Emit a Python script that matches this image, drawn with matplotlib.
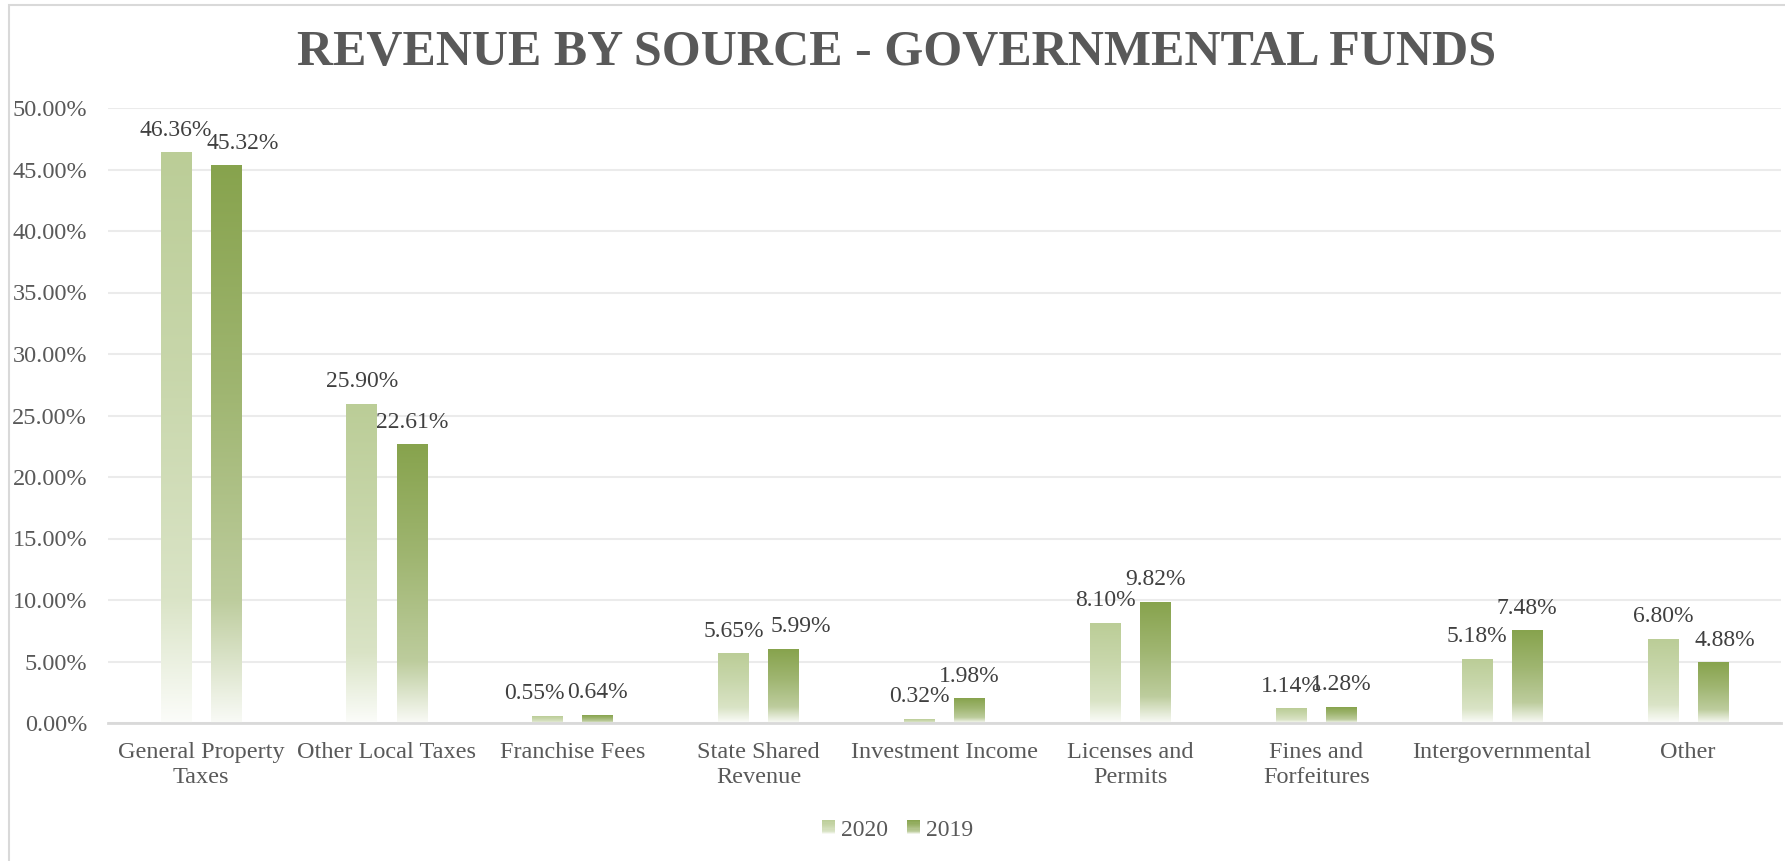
import numpy as np
import matplotlib.pyplot as plt
from matplotlib.colors import LinearSegmentedColormap, to_rgb
from matplotlib.legend_handler import HandlerBase
from matplotlib.patches import Rectangle

# 数据
categories = [
    "General Property\nTaxes", "Other Local Taxes", "Franchise Fees",
    "State Shared\nRevenue", "Investment Income", "Licenses and\nPermits",
    "Fines and\nForfeitures", "Intergovernmental", "Other",
]
share_2020 = [46.36, 25.90, 0.55, 5.65, 0.32, 8.10, 1.14, 5.18, 6.80]
share_2019 = [45.32, 22.61, 0.64, 5.99, 1.98, 9.82, 1.28, 7.48, 4.88]
y_ticks = [0, 5, 10, 15, 20, 25, 30, 35, 40, 45, 50]

COLOR_2020 = "#BBCD97"
COLOR_2019 = "#87A34D"
TEXT_DARK = "#404040"
TEXT_GREY = "#595959"
FONT = "Liberation Serif"
BAR_W = 0.165
OFFSET = 0.135

# label nudges in pixels (series, index) -> dx
LABEL_NUDGE = {("2019", 0): 17, ("2019", 3): 17, ("2019", 8): 12, ("2020", 2): -13}


def mix(c, t):
    r = np.array(to_rgb(c))
    return tuple(r + (1 - r) * t)


def make_cmap(c):
    # 0 = bottom (white), 1 = top (full colour)
    stops = [(0.0, mix(c, 0.95)), (0.22, mix(c, 0.45)), (0.6, mix(c, 0.2)), (1.0, mix(c, 0.0))]
    return LinearSegmentedColormap.from_list("g", stops)


CMAPS = {"2020": make_cmap(COLOR_2020), "2019": make_cmap(COLOR_2019)}
GRAD = np.linspace(0, 1, 256).reshape(-1, 1)


class GradientHandler(HandlerBase):
    def __init__(self, cmap):
        super().__init__()
        self.cmap = cmap

    def create_artists(self, legend, orig_handle, xdescent, ydescent,
                       width, height, fontsize, trans):
        n = 12
        arts = []
        for i in range(n):
            r = Rectangle((-xdescent, -ydescent + height * i / n), width, height / n + 0.3,
                          facecolor=self.cmap((i + 0.5) / n), edgecolor="none",
                          transform=trans)
            arts.append(r)
        return arts


fig = plt.figure(figsize=(17.85, 8.61), dpi=100)
ax = fig.add_axes([108 / 1785, 138 / 861, 1673 / 1785, 615 / 861])

# chart frame
fig.patches.append(Rectangle((9 / 1785, -0.1), 1.2, 1.1 - 5 / 861, transform=fig.transFigure,
                             facecolor="none", edgecolor="#D9D9D9", linewidth=1.5))

x = np.arange(len(categories))
for name, vals, sign in (("2020", share_2020, -1), ("2019", share_2019, 1)):
    bars = ax.bar(x + sign * OFFSET, vals, BAR_W, color="none", edgecolor="none", zorder=2)
    for i, b in enumerate(bars):
        x0 = b.get_x()
        h = b.get_height()
        ax.imshow(GRAD, extent=[x0, x0 + b.get_width(), 0, h], origin="lower",
                  cmap=CMAPS[name], aspect="auto", zorder=2, interpolation="bilinear")
        dx = LABEL_NUDGE.get((name, i), 0)
        ax.annotate(f"{vals[i]:.2f}%", (x0 + b.get_width() / 2, h),
                    xytext=(dx, 17), textcoords="offset pixels",
                    ha="center", va="baseline", fontsize=17, family=FONT,
                    color=TEXT_DARK)

ax.set_xlim(-0.5, len(categories) - 0.5)
ax.set_ylim(0, 50)
ax.set_yticks(y_ticks)
ax.set_yticklabels([f"{v:.2f}%" for v in y_ticks])
ax.set_xticks(x)
ax.set_xticklabels(categories, linespacing=1.2)
ax.tick_params(axis="y", length=0, pad=15, labelsize=17.5, labelcolor=TEXT_GREY)
ax.tick_params(axis="x", length=0, pad=14, labelsize=17.5, labelcolor=TEXT_GREY)
for lab in ax.get_xticklabels() + ax.get_yticklabels():
    lab.set_family(FONT)

ax.grid(axis="y", color="#EBEBEB", linewidth=1.5, zorder=0)
ax.set_axisbelow(True)
for s in ("top", "right", "left"):
    ax.spines[s].set_visible(False)
ax.spines["bottom"].set_color("#D9D9D9")
ax.spines["bottom"].set_linewidth(2)
ax.spines["bottom"].set_zorder(3)

fig.text(0.502, 0.938, "REVENUE BY SOURCE - GOVERNMENTAL FUNDS", ha="center", va="center",
         fontsize=36, fontweight="bold", family=FONT, color=TEXT_GREY)

h2020 = Rectangle((0, 0), 1, 1)
h2019 = Rectangle((0, 0), 1, 1)
fig.legend([h2020, h2019], ["2020", "2019"], loc="center", bbox_to_anchor=(0.503, 0.036),
           ncol=2, frameon=False, prop={"family": FONT, "size": 17},
           labelcolor=TEXT_GREY, handlelength=0.55, handleheight=0.55,
           handletextpad=0.25, columnspacing=0.8,
           handler_map={h2020: GradientHandler(CMAPS["2020"]),
                        h2019: GradientHandler(CMAPS["2019"])})

fig.savefig("out.png", dpi=100)
